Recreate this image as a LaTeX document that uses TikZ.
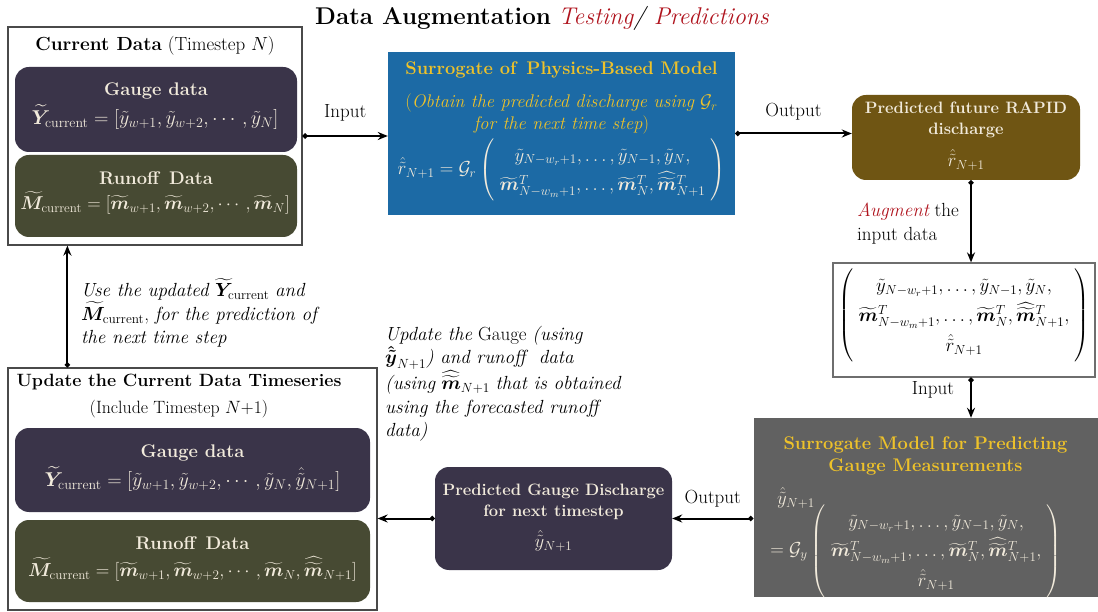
\RequirePackage{fix-cm}
\documentclass[tikz,border=0pt]{standalone}
\usepackage{amsmath,bm}
\usetikzlibrary{arrows.meta}

\definecolor{titlered}{HTML}{B0141E}
\definecolor{gaugefill}{HTML}{3A3449}
\definecolor{runofffill}{HTML}{474A33}
\definecolor{modelblue}{HTML}{1C6AA5}
\definecolor{rapidbrown}{HTML}{6F5513}
\definecolor{modelgray}{HTML}{616161}
\definecolor{gold}{HTML}{EEC22A}
\definecolor{paper}{HTML}{F1EADB}
\definecolor{edge}{HTML}{4A4A4A}

\newcommand{\fsTitle}{\fontsize{24.2}{28}\selectfont}
\newcommand{\fsMain}{\fontsize{19}{23.5}\selectfont}
\newcommand{\fsHead}{\fontsize{18.3}{22}\selectfont}
\newcommand{\fsBox}{\fontsize{16.5}{21}\selectfont}
\newcommand{\fsData}{\fontsize{20}{24}\selectfont}
\newcommand{\fsModel}{\fontsize{18.8}{23}\selectfont}

\newcommand{\ytil}{\tilde{y}}
\newcommand{\mtil}{\bm{\widetilde{m}}}
\newcommand{\mhat}{\bm{\widehat{\widetilde{m}}}}
\newcommand{\mhatT}{\smash[t]{\mhat}}
\newcommand{\yhat}{\hat{\tilde{y}}}
\newcommand{\rhat}{\hat{\tilde{r}}}
\newcommand{\cur}{\mathrm{current}}
\renewcommand{\arraystretch}{1.3}

\begin{document}
\begin{tikzpicture}[x=1pt,y=-1pt,
  frame/.style={draw=edge, line width=1.2pt, fill=white, inner sep=0pt},
  solidbox/.style={inner sep=0pt},
  roundbox/.style={inner sep=0pt, rounded corners=14pt},
  lighttext/.style={text=paper, font=\fsHead, align=center, inner sep=0pt},
  goldtext/.style={text=gold, font=\fsHead, align=center, inner sep=0pt},
  lbl/.style={font=\fsMain, inner sep=0pt},
  note/.style={font=\fsMain, align=left, inner sep=0pt, anchor=north west},
  flow/.style={line width=2pt, {Circle[length=5pt]}-{Stealth[length=10pt,width=8pt]}},
]
\useasboundingbox (0,0) rectangle (1098,612);
\fill[white] (0,0) rectangle (1098,612);

% heading
\node[font=\fsTitle, inner sep=0pt] (head) at (542,18)
  {\textbf{Data Augmentation} \textit{\textcolor{titlered}{Testing}/ \textcolor{titlered}{Predictions}}};

% ---- current data (timestep N)
\node[frame, minimum width=294, minimum height=218] (cur) at (155,136) {};
\node[lbl] (curT) at (155,46) {\textbf{Current Data} (Timestep $N$)};
\node[roundbox, fill=gaugefill, minimum width=282, minimum height=85] (g1) at (156,109.5) {};
\node[lighttext] (g1t) at (156,91) {\bfseries Gauge data};
\node[lighttext, font=\fsData] (g1f) at (155,117)
  {$\widetilde{\bm{Y}}_{\cur} = [\ytil_{w+1}, \ytil_{w+2}, \cdots, \ytil_{N}]$};
\node[roundbox, fill=runofffill, minimum width=282, minimum height=82] (r1) at (156,196) {};
\node[lighttext] (r1t) at (156,178) {\bfseries Runoff\, Data};
\node[lighttext, font=\fontsize{18.6}{22}\selectfont] (r1f) at (155,203)
  {$\widetilde{\bm{M}}_{\cur} = [\mtil_{w+1}, \mtil_{w+2}, \cdots, \mtil_{N}]$};

% ---- surrogate of the physics-based model
\node[solidbox, fill=modelblue, minimum width=347, minimum height=163] (phys) at (561.5,133.5) {};
\node[goldtext] (physT) at (561.5,70) {\bfseries Surrogate of\, Physics-Based Model};
\node[goldtext] (physS) at (561.5,114)
  {(\textit{Obtain the predicted discharge using} $\mathcal{G}_r$\\ \textit{for the next time step})};
\node[lighttext, font=\fsModel] (physF) at (561.5,170)
  {$\rhat_{N+1} = \mathcal{G}_r \left(\begin{array}{c}
     \ytil_{N-w_r+1}, \dots, \ytil_{N-1}, \ytil_{N},\\
     \mtil^{T}_{N-w_m+1}, \dots, \mtil^{T}_{N}, \mhatT^{T}_{N+1}
   \end{array}\right)$};

% ---- predicted RAPID discharge
\node[roundbox, fill=rapidbrown, minimum width=228, minimum height=85] (rapid) at (966,137.5) {};
\node[lighttext, font=\fsBox] (rapidT) at (966,120) {\bfseries Predicted future RAPID\\ \bfseries discharge};
\node[lighttext, font=\fsModel] (rapidF) at (966,160) {$\rhat_{N+1}$};

% ---- augmented input vector
\node[frame, draw=edge!80, minimum width=262, minimum height=114] (aug) at (964,320) {};
\node[lbl, font=\fsModel] (augF) at (964,315.5)
  {$\left(\begin{array}{c}
     \ytil_{N-w_r+1}, \dots, \ytil_{N-1}, \ytil_{N},\\
     \mtil^{T}_{N-w_m+1}, \dots, \mtil^{T}_{N}, \mhatT^{T}_{N+1},\\
     \rhat_{N+1}
   \end{array}\right)$};
\node[note] (augL) at (857,203) {\textit{\textcolor{titlered}{Augment}} the\\ input data};

% ---- surrogate for gauge measurements
\node[solidbox, fill=modelgray, minimum width=344, minimum height=179] (gmod) at (925.5,507.5) {};
\node[goldtext] (gmodT) at (925.5,456) {\bfseries Surrogate Model for Predicting\\ \bfseries Gauge Measurements};
\node[lighttext, font=\fsModel] (gmodY) at (796,498) {$\yhat_{N+1}$};
\node[lighttext, font=\fsModel] (gmodF) at (916,551)
  {$= \mathcal{G}_y \left(\begin{array}{c}
     \ytil_{N-w_r+1}, \dots, \ytil_{N-1}, \ytil_{N},\\
     \mtil^{T}_{N-w_m+1}, \dots, \mtil^{T}_{N}, \mhatT^{T}_{N+1},\\
     \rhat_{N+1}
   \end{array}\right)$};

% ---- predicted gauge discharge
\node[roundbox, fill=gaugefill, minimum width=237, minimum height=103] (pred) at (553.5,518.5) {};
\node[lighttext, font=\fsBox] (predT) at (553.5,502) {\bfseries Predicted Gauge Discharge\\ \bfseries for next timestep};
\node[lighttext, font=\fsModel] (predF) at (553.5,541) {$\yhat_{N+1}$};

% ---- updated data (timestep N+1)
\node[frame, minimum width=369, minimum height=242] (upd) at (192.5,489) {};
\node[lbl, align=center, font=\fontsize{17.8}{27}\selectfont] (updT) at (179,396)
  {\textbf{Update the Current Data Timeseries}\\ (Include Timestep $N$+1)};
\node[roundbox, fill=gaugefill, minimum width=355, minimum height=84] (g2) at (192.5,470) {};
\node[lighttext] (g2t) at (192.5,453) {\bfseries Gauge data};
\node[lighttext, font=\fsData] (g2f) at (192.5,479)
  {$\widetilde{\bm{Y}}_{\cur} = [\ytil_{w+1}, \ytil_{w+2}, \cdots, \ytil_{N}, \yhat_{N+1}]$};
\node[roundbox, fill=runofffill, minimum width=355, minimum height=82] (r2) at (192.5,561) {};
\node[lighttext] (r2t) at (192.5,543) {\bfseries Runoff\, Data};
\node[lighttext, font=\fsModel] (r2f) at (192.5,569)
  {$\widetilde{\bm{M}}_{\cur} = [\mtil_{w+1}, \mtil_{w+2}, \cdots, \mtil_{N}, \mhat_{N+1}]$};

% ---- explanatory notes
\node[note] (useL) at (81,278)
  {\textit{Use the updated} $\widetilde{\bm{Y}}_{\cur}$ \textit{and}\\
   $\widetilde{\bm{M}}_{\cur}$, \textit{for the prediction of}\\
   \textit{the next time step}};
\node[note] (updL) at (385,326)
  {\textit{Update the} Gauge \textit{(using}\\
   $\bm{\hat{\tilde{y}}}_{N+1}$\textit{) and runoff\ \ data}\\
   \textit{(using} $\mhat_{N+1}$ \textit{that is obtained}\\
   \textit{using the forecasted runoff}\\
   \textit{data)}};

% ---- connectors
\draw[flow] (cur.east) -- (cur.east -| phys.west)
  node[lbl, midway, above=14pt] (inA) {Input};
\draw[flow] (phys.east) -- (phys.east -| rapid.west)
  node[lbl, midway, above=12pt] (outA) {Output};
\draw[flow] ([xshift=5pt]rapid.south) -- ([xshift=5pt]rapid.south |- aug.north);
\draw[flow] ([xshift=7pt]aug.south) -- ([xshift=7pt]aug.south |- gmod.north)
  node[lbl, pos=0.3, left=16pt] (inB) {Input};
\draw[flow] (pred.east -| gmod.west) -- (pred.east)
  node[lbl, midway, above=10pt] (outB) {Output};
\draw[flow] (pred.west) -- (pred.west -| upd.east);
\draw[flow] ([xshift=60pt]upd.north west) -- ([xshift=60pt]upd.north west |- cur.south);
\end{tikzpicture}
\end{document}
